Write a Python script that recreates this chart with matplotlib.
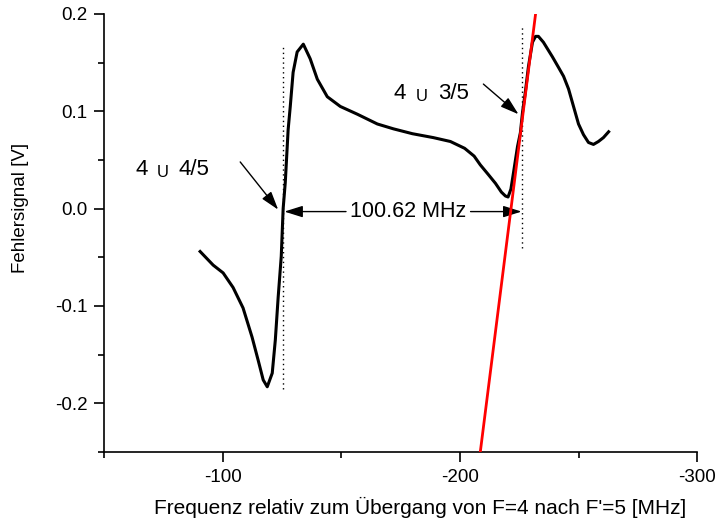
import matplotlib
matplotlib.use("Agg")
import matplotlib.pyplot as plt

plt.rcParams['font.family'] = ['Liberation Sans', 'DejaVu Sans']

# Error signal trace (frequency in MHz, signal in V)
freq = [-90.5, -96.0, -100.2, -104.4, -108.6, -112.4, -115.0, -117.1, -118.8,
        -120.9, -122.2, -123.4, -124.7, -125.5, -126.4, -127.6, -128.5, -129.7,
        -131.4, -134.0, -136.9, -139.9, -144.1, -149.6, -156.8, -165.2, -172.0,
        -180.0, -188.8, -196.0, -202.0, -206.0, -208.6, -212.0, -215.0, -217.5,
        -219.2, -220.3, -221.5, -222.6, -224.3, -225.5, -226.4, -227.6, -228.9,
        -230.6, -231.9, -233.1, -235.2, -239.0, -241.6, -243.7, -245.8, -247.9,
        -250.0, -252.1, -254.2, -256.3, -258.4, -260.5, -262.7]
signal = [-0.044, -0.058, -0.066, -0.081, -0.102, -0.132, -0.156, -0.176, -0.183,
          -0.169, -0.135, -0.091, -0.049, 0.000, 0.027, 0.081, 0.105, 0.140,
          0.161, 0.169, 0.154, 0.133, 0.115, 0.105, 0.097, 0.087, 0.082,
          0.077, 0.073, 0.069, 0.062, 0.054, 0.045, 0.035, 0.026, 0.017,
          0.013, 0.012, 0.020, 0.037, 0.064, 0.078, 0.099, 0.120, 0.146,
          0.171, 0.177, 0.177, 0.171, 0.156, 0.145, 0.136, 0.123, 0.105,
          0.087, 0.076, 0.068, 0.066, 0.069, 0.073, 0.079]

# Red fitted slope line
fit_freq = [-208.6, -231.9]
fit_signal = [-0.25, 0.20]

# Dotted marker lines (position, y-from, y-to)
marker_freqs = [-125.5, -226.0]
marker_ymin = [-0.185, -0.040]
marker_ymax = [0.166, 0.188]

x_ticks = [-100, -200, -300]
x_tick_labels = ['-100', '-200', '-300']
y_ticks = [-0.2, -0.1, 0.0, 0.1, 0.2]
y_tick_labels = ['-0.2', '-0.1', '0.0', '0.1', '0.2']

fig = plt.figure(figsize=(7.15, 5.22), dpi=100)
ax = fig.add_axes([0.1455, 0.1341, 0.8295, 0.8391])

ax.plot(freq, signal, color='black', lw=2.2, zorder=3)
ax.plot(fit_freq, fit_signal, color='red', lw=2.0, zorder=4)
for xm, y0, y1 in zip(marker_freqs, marker_ymin, marker_ymax):
    ax.plot([xm, xm], [y0, y1], color='black', lw=1.0, ls=(0, (1, 2.5)), zorder=2)

ax.set_xlim(-50, -300)
ax.set_ylim(-0.25, 0.2)
ax.set_xticks(x_ticks)
ax.set_xticklabels(x_tick_labels)
ax.set_xticks([-50, -150, -250], minor=True)
ax.set_yticks(y_ticks)
ax.set_yticklabels(y_tick_labels)
ax.set_yticks([-0.25, -0.15, -0.05, 0.05, 0.15], minor=True)
ax.tick_params(which='major', direction='out', length=7, width=1.2, labelsize=13.5, pad=5)
ax.tick_params(which='minor', direction='out', length=4, width=1.2)
for s in ['top', 'right']:
    ax.spines[s].set_visible(False)
for s in ['left', 'bottom']:
    ax.spines[s].set_linewidth(1.2)

ax.set_xlabel("Frequenz relativ zum Übergang von F=4 nach F'=5 [MHz]", fontsize=15)
ax.set_ylabel("Fehlersignal [V]", fontsize=13.5)
ax.xaxis.set_label_coords(0.533, -0.102)
ax.yaxis.set_label_coords(-0.126, 0.557)

# Annotations
ax.text(-63.1, 0.040, "4", fontsize=16, va='center', ha='left')
ax.text(-72.4, 0.037, "U", fontsize=12, va='center', ha='left')
ax.text(-81.2, 0.040, "4/5", fontsize=16, va='center', ha='left')
ax.text(-171.9, 0.118, "4", fontsize=16, va='center', ha='left')
ax.text(-181.2, 0.115, "U", fontsize=12, va='center', ha='left')
ax.text(-190.9, 0.118, "3/5", fontsize=16, va='center', ha='left')

arrow_kw = dict(arrowstyle='-|>,head_length=0.7,head_width=0.22', color='black', lw=1.0,
                mutation_scale=16, shrinkA=0, shrinkB=0)
ax.annotate("", xy=(-123.4, -0.001), xytext=(-107.4, 0.048), arrowprops=arrow_kw)
ax.annotate("", xy=(-224.7, 0.097), xytext=(-209.9, 0.128), arrowprops=arrow_kw)
ax.annotate("", xy=(-126.0, -0.003), xytext=(-152.0, -0.003), arrowprops=arrow_kw)
ax.annotate("", xy=(-226.0, -0.003), xytext=(-204.5, -0.003), arrowprops=arrow_kw)
ax.text(-178.2, -0.003, "100.62 MHz", fontsize=15.5, va='center', ha='center')

fig.savefig("out.png", dpi=100)
